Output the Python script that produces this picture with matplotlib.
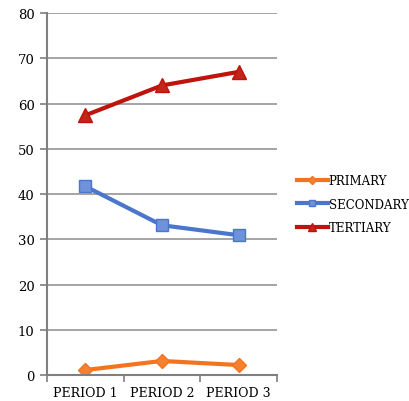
import matplotlib
matplotlib.use("Agg")
import matplotlib.pyplot as plt
import numpy as np

periods = ["PERIOD 1", "PERIOD 2", "PERIOD 3"]
primary = [1.1, 3.1, 2.2]
secondary = [41.7, 33.1, 30.9]
tertiary = [57.4, 64.0, 67.0]

plt.rcParams['font.family'] = ['DejaVu Serif']

fig = plt.figure(figsize=(4.09, 4.02), dpi=100)
ax = fig.add_axes([0.115, 0.0647, 0.562, 0.9003])

x = np.arange(len(periods))
ax.plot(x, primary, color="#F4731F", lw=3, marker="D", ms=7.5,
        mfc="#F7802F", mec="#F4731F", label="PRIMARY")
ax.plot(x, secondary, color="#4A77CD", lw=3, marker="s", ms=9,
        mfc="#6F92DA", mec="#4A77CD", label="SECONDARY")
ax.plot(x, tertiary, color="#BE140C", lw=3, marker="^", ms=9.5,
        mfc="#C2261A", mec="#BE140C", label="TERTIARY")

ax.set_xlim(-0.5, 2.5)
ax.set_ylim(0, 80)
ax.set_yticks(range(0, 81, 10))
ax.yaxis.grid(True, color="#8C8C8C", lw=1.1)
ax.set_axisbelow(True)

# category labels centred, tick marks on the boundaries
ax.set_xticks(x)
ax.set_xticklabels(periods, fontsize=9)
ax.tick_params(axis="x", length=0, pad=8)
ax.set_xticks([-0.5, 0.5, 1.5, 2.5], minor=True)
ax.tick_params(axis="x", which="minor", length=5, color="#7F7F7F", width=1.2)
ax.tick_params(axis="y", length=5, color="#7F7F7F", width=1.2, labelsize=9.5, pad=4)

for side in ["top", "right"]:
    ax.spines[side].set_visible(False)
for side in ["left", "bottom"]:
    ax.spines[side].set_color("#7F7F7F")
    ax.spines[side].set_linewidth(1.5)

fig.legend(loc="center left", bbox_to_anchor=(0.726, 0.49), frameon=False,
           fontsize=8.5, handlelength=2.6, handletextpad=0.1, labelspacing=0.9,
           markerscale=0.55, borderaxespad=0, borderpad=0)

fig.savefig("out.png", dpi=100)
